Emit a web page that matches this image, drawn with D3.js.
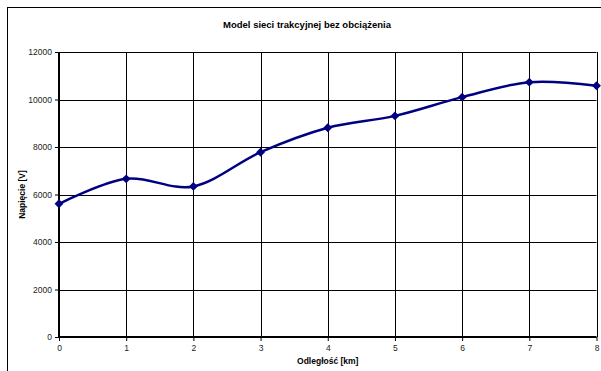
<!DOCTYPE html>
<html><head><meta charset="utf-8">
<script src="https://cdn.jsdelivr.net/npm/d3@7/dist/d3.min.js"></script>
<style>body{margin:0;background:#fff}svg{display:block}text{font-family:Arial,"Liberation Sans",sans-serif}</style>
</head><body><svg id="c" width="601" height="371"></svg>
<script>
const title = "Model sieci trakcyjnej bez obciążenia";
const xTitle = "Odległość [km]";
const yTitle = "Napięcie [V]";
const distances = [0, 1, 2, 3, 4, 5, 6, 7, 8];
const voltages = [5610, 6660, 6340, 7780, 8810, 9310, 10100, 10730, 10580];
const xTicks = [0, 1, 2, 3, 4, 5, 6, 7, 8];
const yTicks = [0, 2000, 4000, 6000, 8000, 10000, 12000];

const svg = d3.select("#c");
const L = 59, R = 596.5, T = 52, B = 337;
const x = d3.scaleLinear().domain([0, 8]).range([L, R]);
const y = d3.scaleLinear().domain([0, 12000]).range([B, T]);

svg.append("rect").attr("x", 7.5).attr("y", 7.5).attr("width", 600).attr("height", 370)
  .attr("fill", "#fff").attr("stroke", "#000").attr("stroke-width", 1);

const g = svg.append("g");
g.selectAll(".gy").data(yTicks).join("line")
  .attr("x1", L).attr("x2", R).attr("y1", d => Math.round(y(d)) + 0.5).attr("y2", d => Math.round(y(d)) + 0.5)
  .attr("stroke", "#000").attr("stroke-width", 1);
g.selectAll(".gx").data(xTicks).join("line")
  .attr("y1", T).attr("y2", B).attr("x1", d => Math.round(x(d)) + 0.5).attr("x2", d => Math.round(x(d)) + 0.5)
  .attr("stroke", "#000").attr("stroke-width", 1);

const yAxis = d3.axisLeft(y).tickValues(yTicks).tickSize(4).tickPadding(3).tickFormat(d3.format("d"));
const ya = svg.append("g").attr("transform", `translate(${L},0)`).call(yAxis);
const xAxis = d3.axisBottom(x).tickValues(xTicks).tickSize(4).tickPadding(4).tickFormat(d3.format("d"));
const xa = svg.append("g").attr("transform", `translate(0,${B})`).call(xAxis);
[ya, xa].forEach(a => {
  a.select(".domain").attr("stroke", "#000").attr("stroke-width", 2);
  a.selectAll(".tick line").attr("stroke", "#000");
  a.selectAll(".tick text").attr("font-size", "8.5px").attr("fill", "#222").attr("font-family", "Arial, Liberation Sans, sans-serif");
});
ya.select(".domain").attr("d", `M0,${B}V${T}`);
xa.select(".domain").attr("d", `M${L},0H${R}`);

const line = d3.line().x((d, i) => x(distances[i])).y(d => y(d)).curve(d3.curveCardinal.tension(0));
svg.append("path").datum(voltages).attr("d", line).attr("fill", "none")
  .attr("stroke", "#000080").attr("stroke-width", 2.5);
svg.selectAll(".pt").data(voltages).join("path")
  .attr("transform", (d, i) => `translate(${x(distances[i])},${y(d)})`)
  .attr("d", d3.symbol().type(d3.symbolDiamond2).size(50)).attr("fill", "#000080");

svg.append("text").attr("x", 307).attr("y", 27.5).attr("text-anchor", "middle")
  .attr("font-size", "9.5px").attr("font-weight", "bold").text(title);
svg.append("text").attr("x", (L + R) / 2).attr("y", 364).attr("text-anchor", "middle")
  .attr("font-size", "8.5px").attr("font-weight", "bold").text(xTitle);
svg.append("text").attr("transform", `translate(25,${(T + B) / 2}) rotate(-90)`).attr("text-anchor", "middle")
  .attr("font-size", "8.5px").attr("font-weight", "bold").text(yTitle);
</script></body></html>
